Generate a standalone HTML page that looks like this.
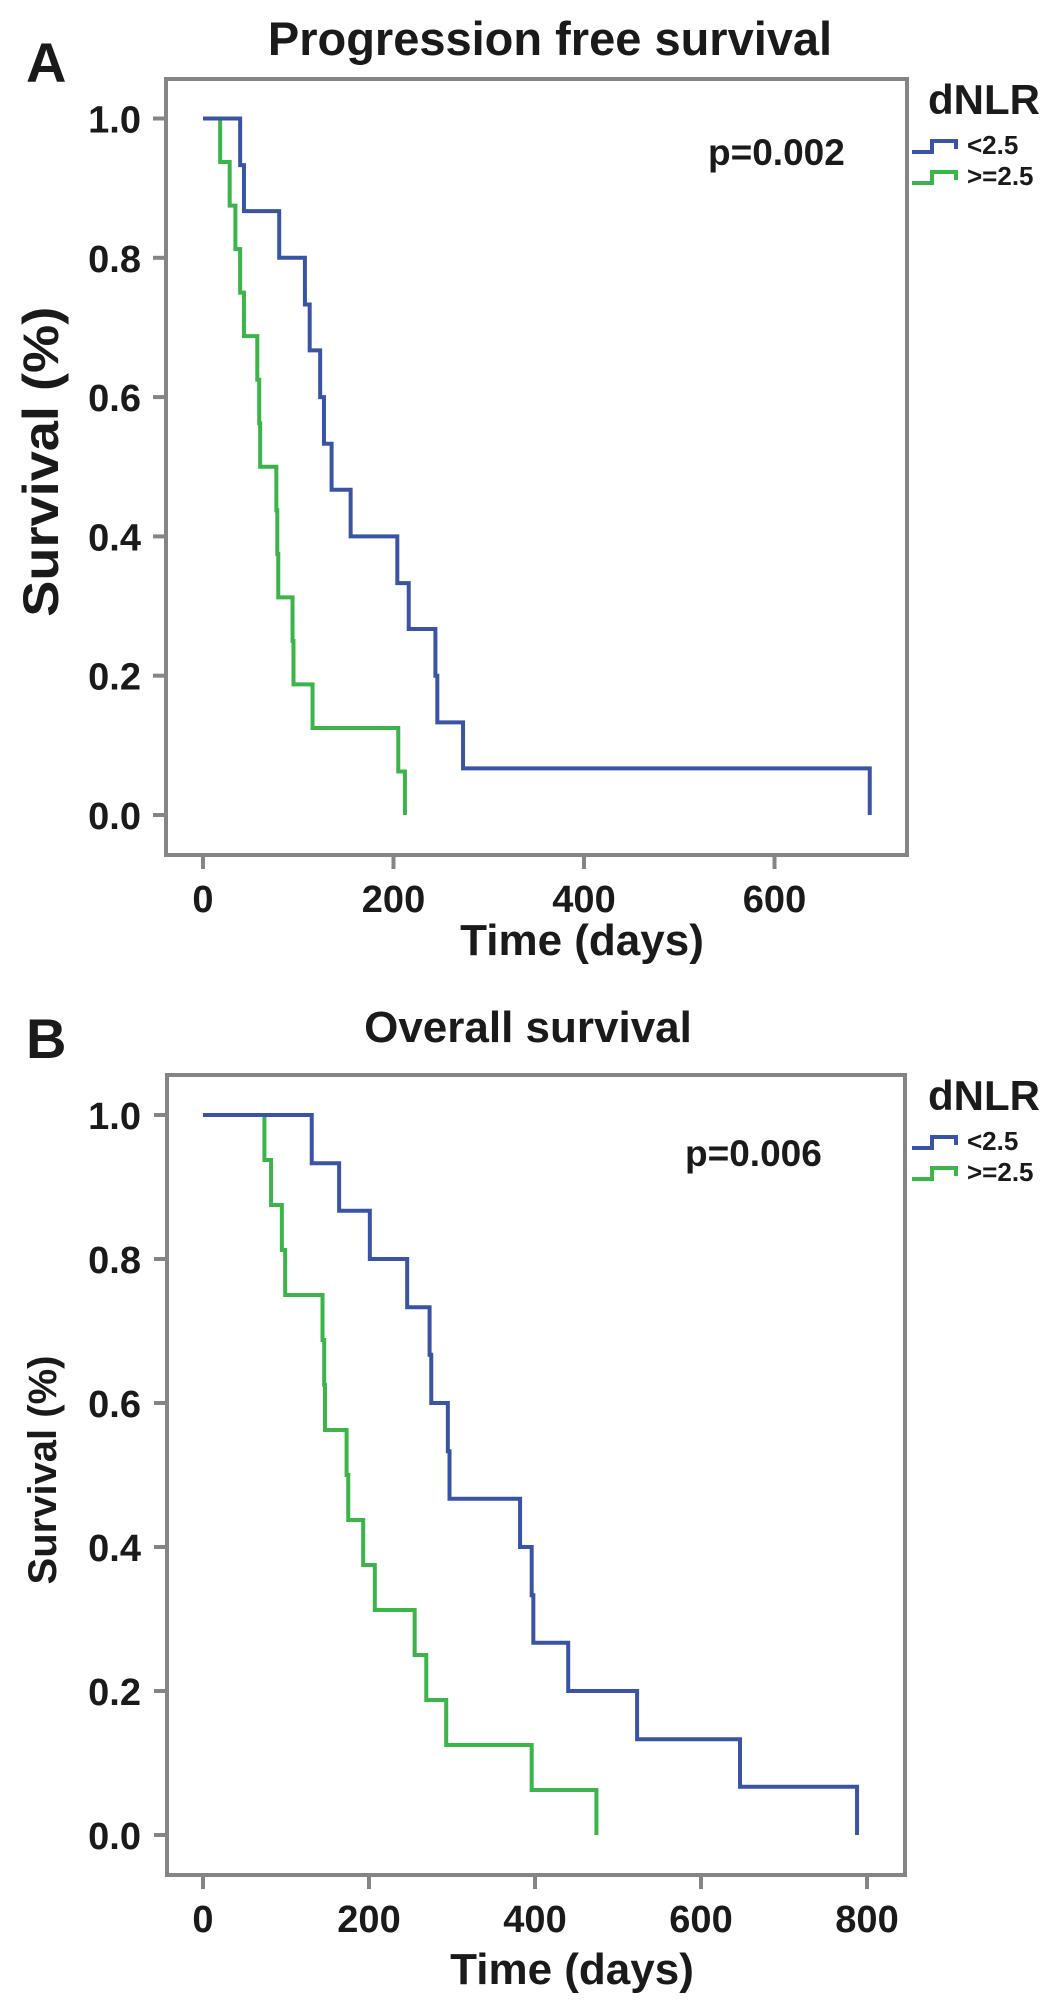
<!DOCTYPE html>
<html><head><meta charset="utf-8">
<style>
body{margin:0;background:#fff;}
svg text{font-family:"Liberation Sans",Arial,sans-serif;font-weight:bold;fill:#1a1a1a;}
</style></head>
<body>
<svg id="fig" width="1063" height="1998" viewBox="0 0 1063 1998" xmlns="http://www.w3.org/2000/svg">
<g id="panelA"></g>
<g id="panelB"></g>
</svg>
<script>
// Panel A data (PFS)
const pfsBlueTimes = [0, 39, 43, 80, 107, 112, 123, 127, 135, 155, 204, 216, 244, 246, 273, 700];
const pfsBlueSurv  = [1.0, 0.933, 0.867, 0.8, 0.733, 0.667, 0.6, 0.533, 0.467, 0.4, 0.333, 0.267, 0.2, 0.133, 0.067, 0.0];
const pfsGreenTimes = [0, 18, 28, 34, 39, 43, 57, 59, 60, 77, 78, 79, 94, 95, 115, 205, 212];
const pfsGreenSurv  = [1.0, 0.9375, 0.875, 0.8125, 0.75, 0.6875, 0.625, 0.5625, 0.5, 0.4375, 0.375, 0.3125, 0.25, 0.1875, 0.125, 0.0625, 0.0];
const pfsXTicks = [0, 200, 400, 600];
// Panel B data (OS)
const osBlueTimes = [0, 131, 164, 201, 246, 273, 275, 295, 297, 382, 396, 398, 440, 523, 647, 788];
const osBlueSurv  = [1.0, 0.933, 0.867, 0.8, 0.733, 0.667, 0.6, 0.533, 0.467, 0.4, 0.333, 0.267, 0.2, 0.133, 0.067, 0.0];
const osGreenTimes = [0, 74, 82, 95, 99, 144, 146, 147, 173, 175, 193, 207, 255, 269, 293, 396, 474];
const osGreenSurv  = [1.0, 0.9375, 0.875, 0.8125, 0.75, 0.6875, 0.625, 0.5625, 0.5, 0.4375, 0.375, 0.3125, 0.25, 0.1875, 0.125, 0.0625, 0.0];
const osXTicks = [0, 200, 400, 600, 800];
const yTicks = [0.0, 0.2, 0.4, 0.6, 0.8, 1.0];
const yTickLabels = ["0.0", "0.2", "0.4", "0.6", "0.8", "1.0"];
const legendLabels = ["<2.5", ">=2.5"];

const NS = "http://www.w3.org/2000/svg";
const BLUE = "#3a54a5", GREEN = "#3bb44a", FRAME = "#858585";
function mk(parent, tag, attrs, text){
  const e = document.createElementNS(NS, tag);
  for (const k in attrs) e.setAttribute(k, attrs[k]);
  if (text !== undefined) e.textContent = text;
  parent.appendChild(e);
  return e;
}
function drawPanel(g, cfg){
  const sx = t => cfg.x0 + t * cfg.pxPerDay;
  const sy = v => cfg.y0 - v * cfg.pxPerUnit;
  const letter = mk(g, "text", {x: 26, y: cfg.letterY, "font-size": 56});
  letter.textContent = cfg.letter;
  
  
  const title = mk(g, "text", {x: cfg.titleX, y: cfg.titleY, "font-size": cfg.titleSize, "text-anchor": "middle"}, cfg.title);
  
  
  const frame = mk(g, "rect", {x: cfg.left, y: cfg.top, width: cfg.right - cfg.left, height: cfg.bottom - cfg.top, fill: "none", stroke: FRAME, "stroke-width": 4});
  
  
  yTicks.forEach((v, i) => {
    const y = sy(v);
    const t = mk(g, "line", {x1: cfg.left - 13, x2: cfg.left, y1: y, y2: y, stroke: FRAME, "stroke-width": 4});
    
    
    const l = mk(g, "text", {x: 141, y: y + 14, "font-size": 38, "text-anchor": "end"}, yTickLabels[i]);
    
    
  });
  cfg.xTicks.forEach(v => {
    const x = sx(v);
    const t = mk(g, "line", {x1: x, x2: x, y1: cfg.bottom, y2: cfg.bottom + 14, stroke: FRAME, "stroke-width": 4});
    
    
    const l = mk(g, "text", {x: x, y: cfg.bottom + 57, "font-size": 38, "text-anchor": "middle"}, String(v));
    
    
  });
  const xt = mk(g, "text", {x: cfg.xTitleX, y: cfg.xTitleY, "font-size": 44, "text-anchor": "middle"}, "Time (days)");
  
  
  const yc = sy(0.5) - 5;
  const yattrs = {x: 0, y: 0, "font-size": cfg.yTitleSize, "text-anchor": "middle", transform: `translate(${cfg.yTitleX} ${yc}) rotate(-90)`};
  if (cfg.yTitleLen) { yattrs.textLength = cfg.yTitleLen; yattrs.lengthAdjust = "spacingAndGlyphs"; }
  const yt = mk(g, "text", yattrs, "Survival (%)");
  
  
  function curve(times, surv, color, name){
    let d = `M${sx(times[0])},${sy(surv[0])}`;
    for (let i = 1; i < times.length; i++){
      d += ` H${sx(times[i])} V${sy(surv[i])}`;
    }
    const p = mk(g, "path", {d: d, fill: "none", stroke: color, "stroke-width": 4});
    
    
  }
  curve(cfg.greenT, cfg.greenS, GREEN, 'curve-dnlr-high');
  curve(cfg.blueT, cfg.blueS, BLUE, 'curve-dnlr-low');
  const pv = mk(g, "text", {x: cfg.pX, y: cfg.pY, "font-size": 37}, cfg.pText);
  
  
  const lt = mk(g, "text", {x: 928, y: cfg.legY, "font-size": 42}, "dNLR");
  
  
  [BLUE, GREEN].forEach((c, i) => {
    const by = cfg.legY + 38 + i * 31;
    const ic = mk(g, "path", {d: `M912,${by} H932 V${by-11} H956 V${by-3}`, fill: "none", stroke: c, "stroke-width": 4});
    
    
    const tx = mk(g, "text", {x: 967, y: by + 2, "font-size": 26}, legendLabels[i]);
    
    
  });
}
drawPanel(document.getElementById("panelA"), {
  letter: "A", letterY: 82, title: "Progression free survival", titleX: 550, titleY: 55, titleSize: 47,
  left: 166, right: 907, top: 79, bottom: 855,
  x0: 203, pxPerDay: 0.9525, y0: 815, pxPerUnit: 696.5,
  xTicks: pfsXTicks, xTitleX: 582, xTitleY: 955,
  yTitleX: 58, yTitleSize: 50, yTitleLen: 310,
  blueT: pfsBlueTimes, blueS: pfsBlueSurv, greenT: pfsGreenTimes, greenS: pfsGreenSurv,
  pText: "p=0.002", pX: 708, pY: 165, legY: 114
});
drawPanel(document.getElementById("panelB"), {
  letter: "B", letterY: 1058, title: "Overall survival", titleX: 528, titleY: 1042, titleSize: 44,
  left: 167, right: 905, top: 1075, bottom: 1875,
  x0: 203, pxPerDay: 0.83, y0: 1835, pxPerUnit: 720,
  xTicks: osXTicks, xTitleX: 572, xTitleY: 1984,
  yTitleX: 56, yTitleSize: 40, yTitleLen: 0,
  blueT: osBlueTimes, blueS: osBlueSurv, greenT: osGreenTimes, greenS: osGreenSurv,
  pText: "p=0.006", pX: 685, pY: 1166, legY: 1110
});
</script>
</body></html>
